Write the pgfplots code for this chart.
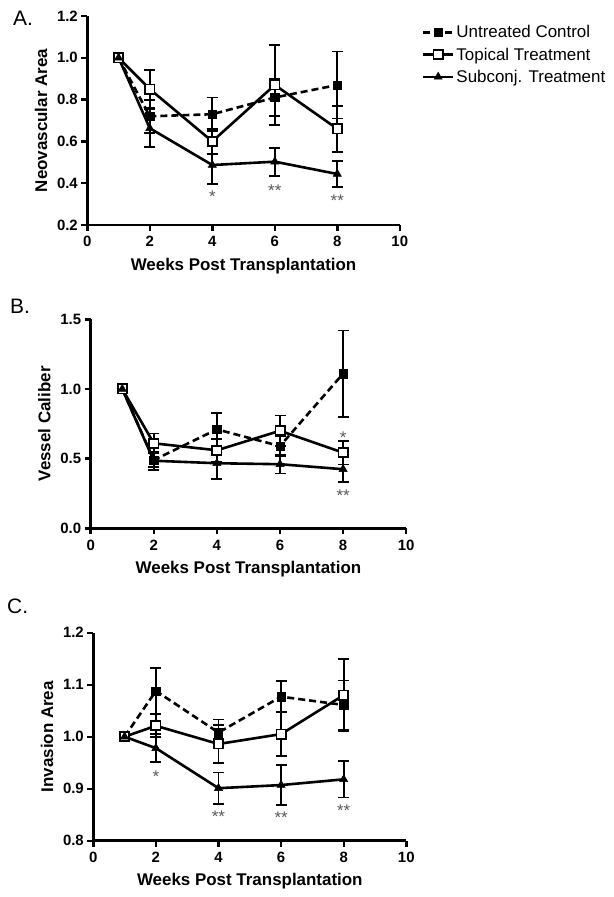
\documentclass[border=0pt]{standalone}
\usepackage{fontspec}
\setmainfont{Liberation Sans}
\usepackage{pgfplots}
\pgfplotsset{compat=1.18}
\tikzset{starlab/.style={anchor=base, yshift=-9.5bp, text=black!65, font=\fontsize{17}{17}\selectfont, inner sep=0pt}}
\pgfplotsset{
  panel/.style={
    scale only axis,
    anchor=south west,
    axis lines=left,
    axis line style={-, line width=2.6bp},
    tick align=outside,
    major tick length=6bp,
    every tick/.style={black, line width=2.4bp},
    xmin=0, xmax=10,
    xtick={0,2,4,6,8,10},
    /pgf/number format/assume math mode=true,
    tick label style={font=\bfseries\fontsize{15}{15}\selectfont},
    label style={font=\bfseries\fontsize{17}{17}\selectfont},
    yticklabel style={/pgf/number format/.cd, fixed, fixed zerofill, precision=1},
    xticklabel shift=2bp,
    xlabel shift=4bp,
    ylabel shift=3bp,
    xlabel={Weeks Post Transplantation},
    clip=false,
  },
  ctrl/.style={black, line width=2.6bp, dash pattern=on 7bp off 4bp,
    mark=square*, mark size=4.2bp, mark options={solid, fill=black, line width=0.5bp},
    error bars/.cd, y dir=both, y explicit,
    error bar style={solid, line width=1.8bp},
    error mark options={solid, rotate=90, mark size=5.5bp, line width=1.8bp}},
  topi/.style={black, line width=2.6bp, solid,
    mark=square*, mark size=4.6bp, mark options={solid, fill=white, line width=1.8bp},
    error bars/.cd, y dir=both, y explicit,
    error bar style={solid, line width=1.8bp},
    error mark options={solid, rotate=90, mark size=5.5bp, line width=1.8bp}},
  subc/.style={black, line width=2.6bp, solid,
    mark=triangle*, mark size=4.7bp, mark options={solid, fill=black, line width=0.5bp},
    error bars/.cd, y dir=both, y explicit,
    error bar style={solid, line width=1.8bp},
    error mark options={solid, rotate=90, mark size=5.5bp, line width=1.8bp}},
}
\begin{document}
\begin{tikzpicture}
\path[use as bounding box] (0,0) rectangle (614bp,-897bp);
% Panel letters
\node[anchor=base west, inner sep=0pt, font=\fontsize{21}{21}\selectfont] at (13bp,-25bp) {A.};
\node[anchor=base west, inner sep=0pt, font=\fontsize{21}{21}\selectfont] at (10bp,-313bp) {B.};
\node[anchor=base west, inner sep=0pt, font=\fontsize{21}{21}\selectfont] at (7bp,-613bp) {C.};

% ---------- Panel A ----------
\begin{axis}[panel, at={(87.3bp,-225bp)}, width=312.5bp, height=209bp,
  ymin=0.2, ymax=1.2, ytick={0.2,0.4,0.6,0.8,1.0,1.2},
  ylabel={Neovascular Area},
  legend style={at={(1.07,0.965)}, anchor=north west, draw=none, fill=none,
    font=\fontsize{17}{17}\selectfont, inner sep=0pt, row sep=4.5bp},
  legend cell align=left,
  legend image code/.code={\draw[mark repeat=2, mark phase=2, #1] plot coordinates {(0bp,0bp) (15bp,0bp) (30bp,0bp)};},
]
\addplot[ctrl] coordinates {(1,1.0) +- (0,0) (2,0.72) +- (0,0.08) (4,0.73) +- (0,0.08) (6,0.81) +- (0,0.09) (8,0.87) +- (0,0.16)};
\addlegendentry{Untreated Control}
\addplot[topi] coordinates {(1,1.0) +- (0,0) (2,0.85) +- (0,0.09) (4,0.60) +- (0,0.06) (6,0.87) +- (0,0.19) (8,0.66) +- (0,0.11)};
\addlegendentry{Topical Treatment}
\addplot[subc] coordinates {(1,1.0) +- (0,0) (2,0.663) +- (0,0.09) (4,0.487) +- (0,0.09) (6,0.503) +- (0,0.067) (8,0.444) +- (0,0.064)};
\addlegendentry{Subconj. Treatment}
\node[starlab] at (axis cs:4,0.355) {*};
\node[starlab] at (axis cs:6,0.383) {**};
\node[starlab] at (axis cs:8,0.335) {**};
\end{axis}

% ---------- Panel B ----------
\begin{axis}[panel, at={(90.7bp,-528.3bp)}, width=315.5bp, height=209bp,
  ymin=0, ymax=1.5, ytick={0,0.5,1.0,1.5},
  ylabel={Vessel Caliber},
]
\addplot[ctrl] coordinates {(1,1.0) +- (0,0) (2,0.49) +- (0,0.05) (4,0.71) +- (0,0.12) (6,0.59) +- (0,0.07) (8,1.11) +- (0,0.31)};
\addplot[topi] coordinates {(1,1.0) +- (0,0) (2,0.61) +- (0,0.07) (4,0.56) +- (0,0.08) (6,0.70) +- (0,0.11) (8,0.543) +- (0,0.085)};
\addplot[subc] coordinates {(1,1.0) +- (0,0) (2,0.485) +- (0,0.065) (4,0.467) +- (0,0.115) (6,0.46) +- (0,0.066) (8,0.424) +- (0,0.09)};
\node[starlab] at (axis cs:8,0.68) {*};
\node[starlab] at (axis cs:8,0.263) {**};
\end{axis}

% ---------- Panel C ----------
\begin{axis}[panel, at={(93.3bp,-840.7bp)}, width=313bp, height=208bp,
  ymin=0.8, ymax=1.2, ytick={0.8,0.9,1.0,1.1,1.2},
  ylabel={Invasion Area},
]
\addplot[ctrl] coordinates {(1,1.0) +- (0,0) (2,1.088) +- (0,0.044) (4,1.008) +- (0,0.025) (6,1.077) +- (0,0.03) (8,1.061) +- (0,0.047)};
\addplot[topi] coordinates {(1,1.0) +- (0,0) (2,1.021) +- (0,0.022) (4,0.986) +- (0,0.037) (6,1.005) +- (0,0.042) (8,1.080) +- (0,0.069)};
\addplot[subc] coordinates {(1,1.0) +- (0,0) (2,0.978) +- (0,0.027) (4,0.901) +- (0,0.03) (6,0.907) +- (0,0.038) (8,0.918) +- (0,0.035)};
\node[starlab] at (axis cs:2,0.931) {*};
\node[starlab] at (axis cs:4,0.854) {**};
\node[starlab] at (axis cs:6,0.851) {**};
\node[starlab] at (axis cs:8,0.865) {**};
\end{axis}
\end{tikzpicture}
\end{document}
